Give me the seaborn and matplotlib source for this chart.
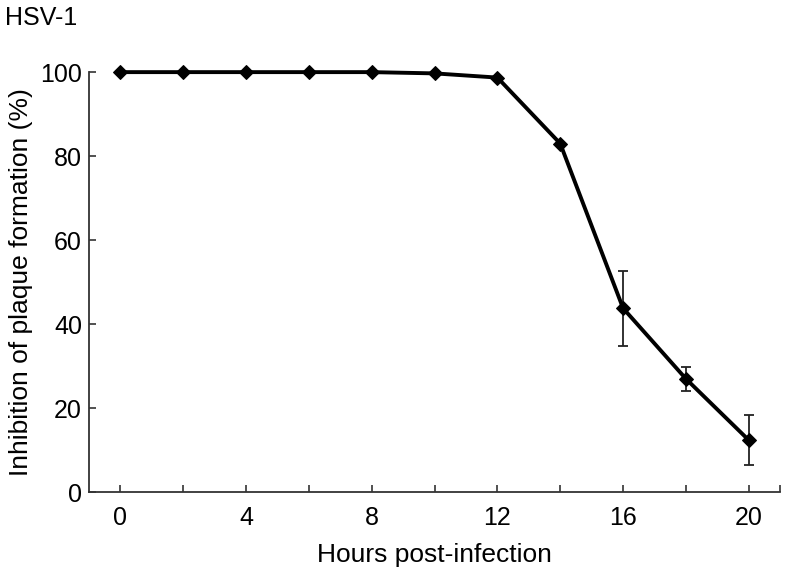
import matplotlib
matplotlib.use("Agg")
import matplotlib.pyplot as plt
import seaborn as sns
import numpy as np
import pandas as pd

hours = [0, 2, 4, 6, 8, 10, 12, 14, 16, 18, 20]
inhibition = [100, 100, 100, 100, 100, 99.7, 98.7, 83, 43.8, 27, 12.4]
err = [0, 0, 0, 0, 0, 0, 0, 0, 8.9, 2.9, 6.0]
xtick_vals = [0, 2, 4, 6, 8, 10, 12, 14, 16, 18, 20]
xtick_labels = ["0", "", "4", "", "8", "", "12", "", "16", "", "20"]
ytick_vals = [0, 20, 40, 60, 80, 100]

sns.set_style("white")
plt.rcParams['font.family'] = ['Liberation Sans', 'DejaVu Sans']
plt.rcParams['text.color'] = 'black'
plt.rcParams['axes.labelcolor'] = 'black'
plt.rcParams['xtick.labelcolor'] = 'black'
plt.rcParams['ytick.labelcolor'] = 'black'

df = pd.DataFrame({"h": hours, "v": inhibition, "e": err})

fig = plt.figure(figsize=(7.88, 5.77), dpi=100)
ax = fig.add_axes([0.113, 0.147, 0.877, 0.728])

ax.errorbar(df["h"], df["v"], yerr=[e if e > 0 else np.nan for e in df["e"]],
            fmt="none", ecolor="#222222", elinewidth=1.3, capsize=3.5, capthick=1.3, zorder=2)
sns.lineplot(data=df, x="h", y="v", ax=ax, color="black", linewidth=2.8,
             marker="D", markersize=7.5, markeredgecolor="black", zorder=3)
for ln in ax.lines:
    ln.set_clip_on(False)

ax.set_xlim(-1, 21)
ax.set_ylim(0, 100)
ax.set_xticks(xtick_vals)
ax.set_xticklabels(xtick_labels)
ax.set_xticks([21], minor=True)
ax.set_yticks(ytick_vals)
ax.tick_params(axis="both", which="both", direction="in", length=5, width=1.2,
               labelsize=18, color="#333333", labelcolor="black", bottom=True, left=True)
ax.tick_params(axis="x", pad=10)
ax.tick_params(axis="y", pad=5)

for s in ["top", "right"]:
    ax.spines[s].set_visible(False)
for s in ["left", "bottom"]:
    ax.spines[s].set_color("#333333")
    ax.spines[s].set_linewidth(1.3)

ax.set_xlabel("Hours post-infection", fontsize=19, labelpad=9, color="black")
ax.set_ylabel("Inhibition of plaque formation (%)", fontsize=19, labelpad=5, color="black")
fig.text(0.006, 0.968, "HSV-1", fontsize=18, ha="left", va="center", color="black")

fig.savefig("out.png", dpi=100)
